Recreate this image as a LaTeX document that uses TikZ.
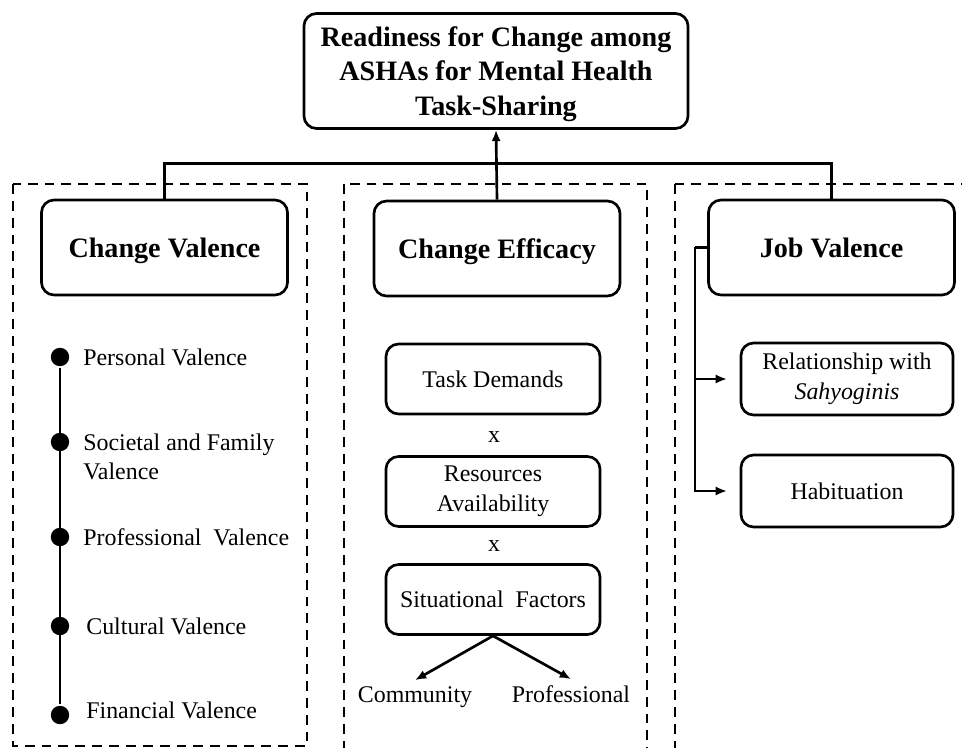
\documentclass[tikz,border=0pt]{standalone}
\usepackage{fontspec}
\setmainfont{Liberation Serif}
\usetikzlibrary{arrows.meta}

\begin{document}
\begin{tikzpicture}[x=0.025cm,y=-0.025cm,line width=1.9pt,
	box/.style={draw,rounded corners=9pt,align=center,font=\fontsize{17}{21}\selectfont},
	headbox/.style={box,text depth=0pt,minimum width=6.15cm,minimum height=2.375cm,font=\bfseries\fontsize{20}{24}\selectfont},
	subbox/.style={box,minimum width=5.35cm,minimum height=1.75cm},
	dashbox/.style={draw,dash pattern=on 7pt off 5pt},
	dot/.style={circle,fill,inner sep=0pt,minimum size=0.46cm},
	lbl/.style={anchor=west,align=left,inner sep=0pt,font=\fontsize{17}{21}\selectfont},
	txt/.style={font=\fontsize{17}{21}\selectfont},
	arr/.style={-{Latex[length=8pt,width=6.5pt]}}]
	\useasboundingbox (0,0) rectangle (962,748);
	\clip (0,0) rectangle (962,748);
	
	% the three groups
	\draw[dashbox] (13,184) rectangle (307,746);
	\draw[dashbox] (344,184) rectangle (647,800);
	\draw[dashbox] (675,184) rectangle (1000,800);
	
	\node[box,text depth=0pt,minimum width=9.6cm,minimum height=2.875cm,font=\bfseries\fontsize{20}{24.5}\selectfont] (ready) at (496,71) {Readiness for Change among\\ASHAs for Mental Health\\Task-Sharing};
	
	\node[headbox,fill=white] (cval) at (164.5,247.5) {Change Valence};
	\node[headbox,fill=white] (ceff) at (497,248.5) {Change Efficacy};
	\node[headbox,fill=white] (jval) at (831.5,247.5) {Job Valence};
	
	\draw[arr] (ceff.north) -- (ready.south);
	\draw (cval.north) -- ++(0,-35) -| (jval.north);
	
	% change valence: points on a line
	\node[dot] (d1) at (60,357) {};
	\node[dot] (d2) at (60,442) {};
	\node[dot] (d3) at (60,537) {};
	\node[dot] (d4) at (60,626) {};
	\node[dot] (d5) at (60,715) {};
	\draw (d1) -- (d5);
	\node[lbl] (pers) at (82,357) {Personal Valence};
	\node[lbl] (soc) at (82,457) {Societal and Family\\Valence};
	\node[lbl] (prof) at (82,537) {Professional\ \ Valence};
	\node[lbl] (cult) at (85,626) {Cultural Valence};
	\node[lbl] (fin) at (85,710) {Financial Valence};
	
	% change efficacy
	\node[subbox] (task) at (493,379) {Task Demands};
	\node[txt] (x1) at (494,437) {x};
	\node[subbox] (res) at (493,491.5) {Resources\\Availability};
	\node[txt] (x2) at (494,546) {x};
	\node[subbox] (sit) at (493,599.5) {Situational\ \ Factors};
	\node[txt,anchor=base] (comm) at (415,702) {Community};
	\node[txt,anchor=base] (pro) at (571,702) {Professional};
	\draw[arr] (sit.south) -- (comm.north);
	\draw[arr] (sit.south) -- (pro.north);
	
	% job valence
	\node[box,minimum width=5.3cm,minimum height=1.8cm] (rel) at (847,379) {Relationship with\\\textit{Sahyoginis}};
	\node[box,minimum width=5.3cm,minimum height=1.8cm] (hab) at (847,491) {Habituation};
	\draw (jval.west) -- ++(-12,0) coordinate (jb);
	\draw[arr,shorten >=9pt] (jb) |- (rel.west);
	\draw[arr,shorten >=9pt] (jb) |- (hab.west);
\end{tikzpicture}
\end{document}
